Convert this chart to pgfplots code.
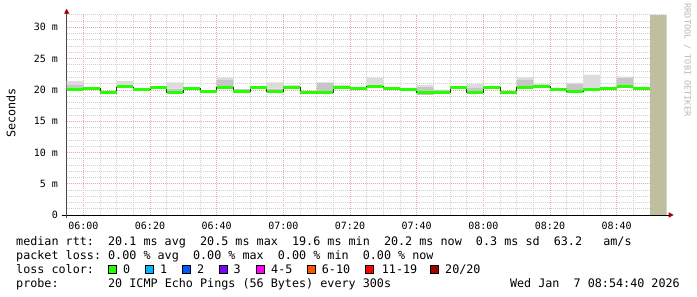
\documentclass[border=0pt]{standalone}
\usepackage{fontspec}
\setmonofont{DejaVu Sans Mono}
\usepackage{pgfplots}
\pgfplotsset{compat=1.18}
\usepackage{pgfplotstable}
\usetikzlibrary{arrows.meta}
\definecolor{cz}{HTML}{26FF00}
\definecolor{cone}{HTML}{00B8FF}
\definecolor{ctwo}{HTML}{0059FF}
\definecolor{cthree}{HTML}{7E00FF}
\definecolor{cfour}{HTML}{FF00FF}
\definecolor{csix}{HTML}{FF5500}
\definecolor{celeven}{HTML}{FF0000}
\definecolor{ctwenty}{HTML}{A10000}
\definecolor{smokelight}{HTML}{DCDCDC}
\definecolor{smokedark}{HTML}{C6C6C6}
\definecolor{tan}{RGB}{192,190,160}
\definecolor{majgrid}{RGB}{230,170,170}
\definecolor{mingrid}{RGB}{208,208,208}
\definecolor{arrowred}{HTML}{A00000}
\pgfplotstableread{
t med hi in lo
-5 20.1 21.4 20.8 19.9
0 20.2 20.35 20.35 20.0
5 19.65 19.65 19.65 19.65
10 20.45 21.4 20.7 20.3
15 20.1 20.2 20.2 20.0
20 20.35 20.6 20.45 20.2
25 19.65 21.2 20.2 19.6
30 20.15 20.15 20.15 20.15
35 19.7 19.7 19.7 19.7
40 20.35 21.9 21.6 20.1
45 19.7 20.1 20.1 19.6
50 20.35 20.35 20.35 20.35
55 19.7 21.2 20.2 19.7
60 20.35 20.75 20.6 20.2
65 19.6 19.6 19.6 19.6
70 19.6 21.2 21.1 19.6
75 20.35 20.8 20.7 20.2
80 20.15 20.15 20.15 20.15
85 20.5 21.9 20.8 20.3
90 20.15 20.35 20.35 20.0
95 20.1 20.1 20.1 20.1
100 19.55 20.8 20.5 19.2
105 19.6 20.0 20.0 19.6
110 20.35 20.35 20.35 20.35
115 19.6 20.9 20.3 19.6
120 20.35 20.35 20.35 20.35
125 19.55 19.55 19.55 19.55
130 20.35 22.0 21.6 20.2
135 20.5 20.9 20.6 20.3
140 20.1 20.1 20.1 20.1
145 19.7 21.1 21.0 19.6
150 20.05 22.4 20.3 19.9
155 20.15 20.35 20.3 20.0
160 20.45 22.1 21.9 20.3
165 20.2 20.4 20.4 20.1
170 20.2 20.4 20.4 20.1
}\pingdata
\begin{document}
\begin{tikzpicture}
\useasboundingbox (0,0) rectangle (697pt,297pt);
\fill[white] (0,0) rectangle (697pt,297pt);
\begin{axis}[
  at={(66.67pt,82pt)}, anchor=south west,
  scale only axis, width=600pt, height=200.3pt,
  xmin=-5, xmax=175, ymin=0, ymax=32,
  axis x line=bottom, axis y line=left,
  x axis line style={black, line width=0.8pt, shorten <=-5pt, shorten >=-7pt, -{Triangle[width=5pt,length=5pt,color=arrowred]}},
  y axis line style={black!70, line width=0.8pt, shorten <=-3pt, shorten >=-6pt, -{Triangle[width=5pt,length=5pt,color=arrowred]}},
  xtick={0,20,...,160},
  xticklabels={06:00,06:20,06:40,07:00,07:20,07:40,08:00,08:20,08:40},
  minor xtick={5,10,15,25,30,35,45,50,55,65,70,75,85,90,95,105,110,115,125,130,135,145,150,155,165,170},
  ytick={0,5,...,30},
  yticklabels={0,5 m,10 m,15 m,20 m,25 m,30 m},
  minor ytick={1,2,3,4,6,7,8,9,11,12,13,14,16,17,18,19,21,22,23,24,26,27,28,29,31,32},
  grid=both,
  major grid style={majgrid, line width=0.55pt, dash pattern=on 1pt off 1pt},
  minor grid style={mingrid, line width=0.55pt, dash pattern=on 1pt off 1pt},
  tick style={draw=none},
  yticklabel style={font=\fontsize{10}{12}\selectfont\ttfamily, xshift=-3pt},
  xticklabel style={font=\fontsize{10}{12}\selectfont\ttfamily, yshift=-1.5pt},
]
\addplot[stack plots=y, draw=none, const plot, forget plot] table[x=t,y=lo]{\pingdata};
\addplot[stack plots=y, fill=smokedark, draw=none, const plot, forget plot] table[x=t,y expr=\thisrow{in}-\thisrow{lo}]{\pingdata} \closedcycle;
\addplot[stack plots=y, fill=smokelight, draw=none, const plot, forget plot] table[x=t,y expr=\thisrow{hi}-\thisrow{in}]{\pingdata} \closedcycle;
\addplot[black!80, line width=0.8pt, const plot] table[x=t,y=med]{\pingdata};
\addplot[cz, line width=3pt, jump mark left] table[x=t,y=med]{\pingdata};
\addplot[fill=tan, draw=none] coordinates {(170,0) (170,32) (175,32) (175,0)} -- cycle;
\end{axis}
\node[rotate=90, font=\fontsize{11.75}{14}\selectfont\ttfamily] at (11pt,184pt) {Seconds};
\node[rotate=-90, font=\fontsize{8.5}{10}\selectfont\ttfamily, text=black!28] at (687.5pt,237pt) {RRDTOOL / TOBI OETIKER};
\begin{scope}[every node/.style={anchor=base west, inner sep=0pt, font=\fontsize{11.75}{14}\selectfont\ttfamily}]
\node at (16pt,51pt) {median rtt:~ 20.1 ms avg~ 20.5 ms max~ 19.6 ms min~ 20.2 ms now~ 0.3 ms sd~ 63.2~~~am/s};
\node at (16pt,37pt) {packet loss: 0.00 \% avg~ 0.00 \% max~ 0.00 \% min~ 0.00 \% now};
\node at (16pt,23pt) {loss color:};
\node at (123pt,23pt) {0};
\node at (160pt,23pt) {1};
\node at (197pt,23pt) {2};
\node at (233.5pt,23pt) {3};
\node at (271pt,23pt) {4-5};
\node at (321.7pt,23pt) {6-10};
\node at (381.7pt,23pt) {11-19};
\node at (445pt,23pt) {20/20};
\node at (16pt,9pt) {probe:~~~~~~~20 ICMP Echo Pings (56 Bytes) every 300s};
\node[anchor=base east] at (680pt,9pt) {Wed Jan~~7 08:54:40 2026};
\end{scope}
\begin{scope}[line width=0.8pt, draw=black]
\filldraw[fill=cz] (108pt,24pt) rectangle (116pt,32pt);
\filldraw[fill=cone] (145.7pt,24pt) rectangle (153.3pt,32pt);
\filldraw[fill=ctwo] (182.7pt,24pt) rectangle (190.3pt,32pt);
\filldraw[fill=cthree] (219.3pt,24pt) rectangle (227pt,32pt);
\filldraw[fill=cfour] (256.7pt,24pt) rectangle (264.3pt,32pt);
\filldraw[fill=csix] (307pt,24pt) rectangle (315pt,32pt);
\filldraw[fill=celeven] (365pt,24pt) rectangle (373pt,32pt);
\filldraw[fill=ctwenty] (430pt,24pt) rectangle (438pt,32pt);
\end{scope}
\end{tikzpicture}
\end{document}
